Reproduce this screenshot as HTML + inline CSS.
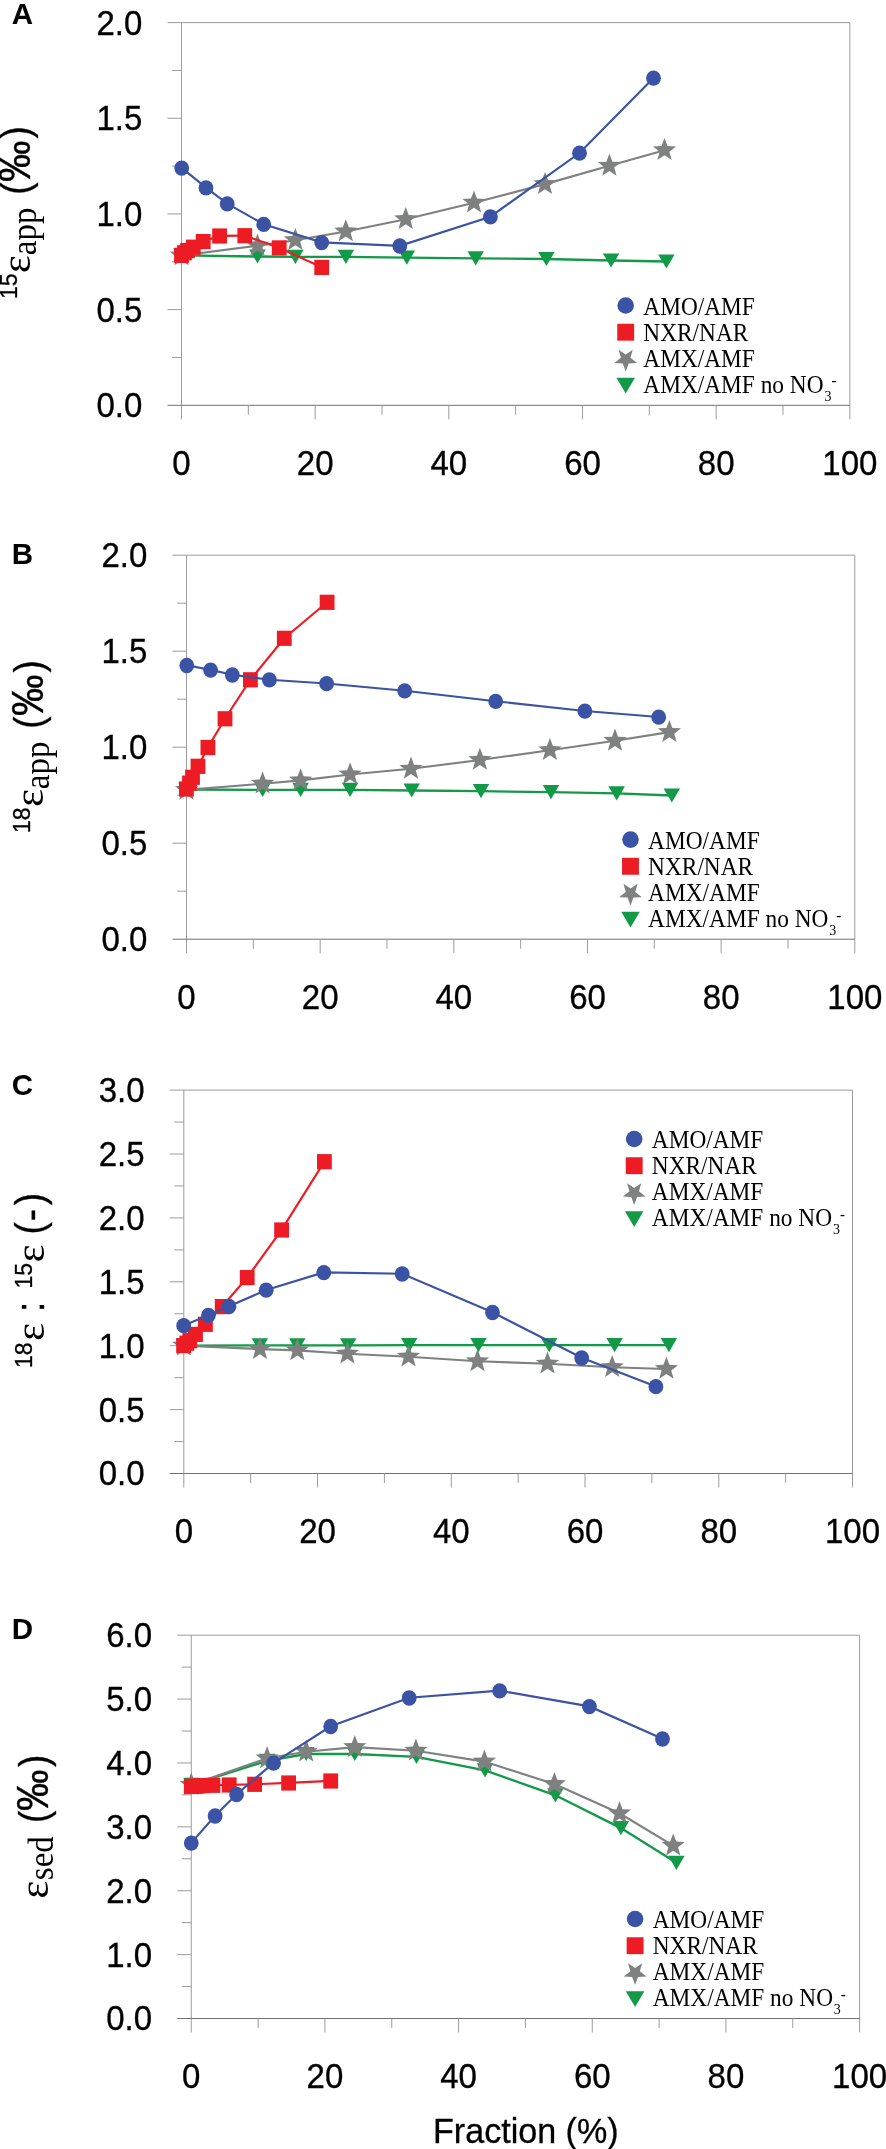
<!DOCTYPE html>
<html><head><meta charset="utf-8"><style>
html,body{margin:0;padding:0;background:#fff;}
svg{display:block;font-family:"Liberation Sans",sans-serif;will-change:transform;}
</style></head><body>
<svg width="886" height="2149" viewBox="0 0 886 2149">
<g stroke="#9c9c9c" stroke-width="1" fill="none">
<path d="M167.5 22.6H849.8"/>
<path d="M849.8 22.6V419.3"/>
<path d="M181.5 22.6V419.3"/>
<path d="M167.5 405.3H849.8" stroke="#727272"/>
<path d="M172 357.46H181.5"/>
<path d="M167.5 309.62H181.5"/>
<path d="M172 261.79H181.5"/>
<path d="M167.5 213.95H181.5"/>
<path d="M172 166.11H181.5"/>
<path d="M167.5 118.28H181.5"/>
<path d="M172 70.44H181.5"/>
<path d="M248.33 405.3V414.8"/>
<path d="M315.16 405.3V419.3"/>
<path d="M381.99 405.3V414.8"/>
<path d="M448.82 405.3V419.3"/>
<path d="M515.65 405.3V414.8"/>
<path d="M582.48 405.3V419.3"/>
<path d="M649.31 405.3V414.8"/>
<path d="M716.14 405.3V419.3"/>
<path d="M782.97 405.3V414.8"/>
</g>
<g font-family="Liberation Sans" font-size="33" text-anchor="end" fill="#000" stroke="#000" stroke-width="0.3">
<text transform="translate(142.3 417.2) scale(1 1.09)" >0.0</text>
<text transform="translate(142.3 321.52) scale(1 1.09)" >0.5</text>
<text transform="translate(142.3 225.85) scale(1 1.09)" >1.0</text>
<text transform="translate(142.3 130.18) scale(1 1.09)" >1.5</text>
<text transform="translate(142.3 34.5) scale(1 1.09)" >2.0</text>
</g>
<g font-family="Liberation Sans" font-size="33" text-anchor="middle" fill="#000" stroke="#000" stroke-width="0.3">
<text transform="translate(181.5 474.8) scale(1 1.09)" >0</text>
<text transform="translate(315.16 474.8) scale(1 1.09)" >20</text>
<text transform="translate(448.82 474.8) scale(1 1.09)" >40</text>
<text transform="translate(582.48 474.8) scale(1 1.09)" >60</text>
<text transform="translate(716.14 474.8) scale(1 1.09)" >80</text>
<text transform="translate(849.8 474.8) scale(1 1.09)" >100</text>
</g>
<text transform="translate(11.7 24.2) scale(1 1.0)" font-family="Liberation Sans" font-size="29.5" font-weight="bold">A</text>
<polyline points="181.5,255.4 257.5,256.5 295.4,256.8 345.9,256.85 406.8,257.7 475.7,258.3 546.4,259 611.1,260.5 666.4,261.5" fill="none" stroke="#139a48" stroke-width="2.3"/>
<g fill="#139a48"><polygon points="173.25,248.3 189.75,248.3 181.5,262.5"/><polygon points="249.25,249.4 265.75,249.4 257.5,263.6"/><polygon points="287.15,249.7 303.65,249.7 295.4,263.9"/><polygon points="337.65,249.75 354.15,249.75 345.9,263.95"/><polygon points="398.55,250.6 415.05,250.6 406.8,264.8"/><polygon points="467.45,251.2 483.95,251.2 475.7,265.4"/><polygon points="538.15,251.9 554.65,251.9 546.4,266.1"/><polygon points="602.85,253.4 619.35,253.4 611.1,267.6"/><polygon points="658.15,254.4 674.65,254.4 666.4,268.6"/></g>
<polyline points="181.5,255.5 257.5,245.6 295.4,240.2 345.8,231.5 405.7,219.2 474,202.7 545,184.1 609.4,165.8 664.5,150.2" fill="none" stroke="#7f8180" stroke-width="2.15"/>
<g fill="#7f8180"><polygon points="181.5,243.3 184.5,251.37 193.1,251.73 186.35,257.08 188.67,265.37 181.5,260.6 174.33,265.37 176.65,257.08 169.9,251.73 178.5,251.37"/><polygon points="257.5,233.4 260.5,241.47 269.1,241.83 262.35,247.18 264.67,255.47 257.5,250.7 250.33,255.47 252.65,247.18 245.9,241.83 254.5,241.47"/><polygon points="295.4,228 298.4,236.07 307,236.43 300.25,241.78 302.57,250.07 295.4,245.3 288.23,250.07 290.55,241.78 283.8,236.43 292.4,236.07"/><polygon points="345.8,219.3 348.8,227.37 357.4,227.73 350.65,233.08 352.97,241.37 345.8,236.6 338.63,241.37 340.95,233.08 334.2,227.73 342.8,227.37"/><polygon points="405.7,207 408.7,215.07 417.3,215.43 410.55,220.78 412.87,229.07 405.7,224.3 398.53,229.07 400.85,220.78 394.1,215.43 402.7,215.07"/><polygon points="474,190.5 477,198.57 485.6,198.93 478.85,204.28 481.17,212.57 474,207.8 466.83,212.57 469.15,204.28 462.4,198.93 471,198.57"/><polygon points="545,171.9 548,179.97 556.6,180.33 549.85,185.68 552.17,193.97 545,189.2 537.83,193.97 540.15,185.68 533.4,180.33 542,179.97"/><polygon points="609.4,153.6 612.4,161.67 621,162.03 614.25,167.38 616.57,175.67 609.4,170.9 602.23,175.67 604.55,167.38 597.8,162.03 606.4,161.67"/><polygon points="664.5,138 667.5,146.07 676.1,146.43 669.35,151.78 671.67,160.07 664.5,155.3 657.33,160.07 659.65,151.78 652.9,146.43 661.5,146.07"/></g>
<polyline points="181.5,255.3 184.4,252.7 187.5,250.5 193.3,247.1 203.2,241.5 219.6,235.9 244.8,235.6 279.2,247.8 321.7,267.3" fill="none" stroke="#ed1c24" stroke-width="2.15"/>
<g fill="#ed1c24"><rect x="174.1" y="247.8" width="14.8" height="15.2"/><rect x="177" y="245.2" width="14.8" height="15.2"/><rect x="180.1" y="243" width="14.8" height="15.2"/><rect x="185.9" y="239.6" width="14.8" height="15.2"/><rect x="195.8" y="234" width="14.8" height="15.2"/><rect x="212.2" y="228.4" width="14.8" height="15.2"/><rect x="237.4" y="228.1" width="14.8" height="15.2"/><rect x="271.8" y="240.3" width="14.8" height="15.2"/><rect x="314.3" y="259.8" width="14.8" height="15.2"/></g>
<polyline points="181.7,167.9 206,187.7 227.2,203.7 263.7,224.2 321.7,242.4 399.8,245.8 490.4,216.7 579.5,153 653.5,78" fill="none" stroke="#3a53a4" stroke-width="2.15"/>
<g fill="#3a53a4"><ellipse cx="181.7" cy="168.1" rx="7.4" ry="7.65"/><ellipse cx="206" cy="187.9" rx="7.4" ry="7.65"/><ellipse cx="227.2" cy="203.9" rx="7.4" ry="7.65"/><ellipse cx="263.7" cy="224.4" rx="7.4" ry="7.65"/><ellipse cx="321.7" cy="242.6" rx="7.4" ry="7.65"/><ellipse cx="399.8" cy="246" rx="7.4" ry="7.65"/><ellipse cx="490.4" cy="216.9" rx="7.4" ry="7.65"/><ellipse cx="579.5" cy="153.2" rx="7.4" ry="7.65"/><ellipse cx="653.5" cy="78.2" rx="7.4" ry="7.65"/></g>
<g stroke="#9c9c9c" stroke-width="1" fill="none">
<path d="M172.5 555.2H854.8"/>
<path d="M854.8 555.2V953.2"/>
<path d="M186.5 555.2V953.2"/>
<path d="M172.5 939.2H854.8" stroke="#727272"/>
<path d="M177 891.2H186.5"/>
<path d="M172.5 843.2H186.5"/>
<path d="M177 795.2H186.5"/>
<path d="M172.5 747.2H186.5"/>
<path d="M177 699.2H186.5"/>
<path d="M172.5 651.2H186.5"/>
<path d="M177 603.2H186.5"/>
<path d="M253.33 939.2V948.7"/>
<path d="M320.16 939.2V953.2"/>
<path d="M386.99 939.2V948.7"/>
<path d="M453.82 939.2V953.2"/>
<path d="M520.65 939.2V948.7"/>
<path d="M587.48 939.2V953.2"/>
<path d="M654.31 939.2V948.7"/>
<path d="M721.14 939.2V953.2"/>
<path d="M787.97 939.2V948.7"/>
</g>
<g font-family="Liberation Sans" font-size="33" text-anchor="end" fill="#000" stroke="#000" stroke-width="0.3">
<text transform="translate(147.3 951.1) scale(1 1.09)" >0.0</text>
<text transform="translate(147.3 855.1) scale(1 1.09)" >0.5</text>
<text transform="translate(147.3 759.1) scale(1 1.09)" >1.0</text>
<text transform="translate(147.3 663.1) scale(1 1.09)" >1.5</text>
<text transform="translate(147.3 567.1) scale(1 1.09)" >2.0</text>
</g>
<g font-family="Liberation Sans" font-size="33" text-anchor="middle" fill="#000" stroke="#000" stroke-width="0.3">
<text transform="translate(186.5 1008.7) scale(1 1.09)" >0</text>
<text transform="translate(320.16 1008.7) scale(1 1.09)" >20</text>
<text transform="translate(453.82 1008.7) scale(1 1.09)" >40</text>
<text transform="translate(587.48 1008.7) scale(1 1.09)" >60</text>
<text transform="translate(721.14 1008.7) scale(1 1.09)" >80</text>
<text transform="translate(854.8 1008.7) scale(1 1.09)" >100</text>
</g>
<text transform="translate(11.7 564) scale(1 1.0)" font-family="Liberation Sans" font-size="29.5" font-weight="bold">B</text>
<polyline points="186.5,789.5 262.6,789.9 300.6,789.9 350.1,789.9 411.7,790.5 481,791.2 551,792.2 616.7,793.3 671.8,795.5" fill="none" stroke="#139a48" stroke-width="2.3"/>
<g fill="#139a48"><polygon points="178.25,782.4 194.75,782.4 186.5,796.6"/><polygon points="254.35,782.8 270.85,782.8 262.6,797"/><polygon points="292.35,782.8 308.85,782.8 300.6,797"/><polygon points="341.85,782.8 358.35,782.8 350.1,797"/><polygon points="403.45,783.4 419.95,783.4 411.7,797.6"/><polygon points="472.75,784.1 489.25,784.1 481,798.3"/><polygon points="542.75,785.1 559.25,785.1 551,799.3"/><polygon points="608.45,786.2 624.95,786.2 616.7,800.4"/><polygon points="663.55,788.4 680.05,788.4 671.8,802.6"/></g>
<polyline points="186.5,789.9 262.6,783.7 300.6,780.4 350.1,774.5 411,768.8 479.9,760 549.9,750.2 615,740.8 669.4,732.1" fill="none" stroke="#7f8180" stroke-width="2.15"/>
<g fill="#7f8180"><polygon points="186.5,777.7 189.5,785.77 198.1,786.13 191.35,791.48 193.67,799.77 186.5,795 179.33,799.77 181.65,791.48 174.9,786.13 183.5,785.77"/><polygon points="262.6,771.5 265.6,779.57 274.2,779.93 267.45,785.28 269.77,793.57 262.6,788.8 255.43,793.57 257.75,785.28 251,779.93 259.6,779.57"/><polygon points="300.6,768.2 303.6,776.27 312.2,776.63 305.45,781.98 307.77,790.27 300.6,785.5 293.43,790.27 295.75,781.98 289,776.63 297.6,776.27"/><polygon points="350.1,762.3 353.1,770.37 361.7,770.73 354.95,776.08 357.27,784.37 350.1,779.6 342.93,784.37 345.25,776.08 338.5,770.73 347.1,770.37"/><polygon points="411,756.6 414,764.67 422.6,765.03 415.85,770.38 418.17,778.67 411,773.9 403.83,778.67 406.15,770.38 399.4,765.03 408,764.67"/><polygon points="479.9,747.8 482.9,755.87 491.5,756.23 484.75,761.58 487.07,769.87 479.9,765.1 472.73,769.87 475.05,761.58 468.3,756.23 476.9,755.87"/><polygon points="549.9,738 552.9,746.07 561.5,746.43 554.75,751.78 557.07,760.07 549.9,755.3 542.73,760.07 545.05,751.78 538.3,746.43 546.9,746.07"/><polygon points="615,728.6 618,736.67 626.6,737.03 619.85,742.38 622.17,750.67 615,745.9 607.83,750.67 610.15,742.38 603.4,737.03 612,736.67"/><polygon points="669.4,719.9 672.4,727.97 681,728.33 674.25,733.68 676.57,741.97 669.4,737.2 662.23,741.97 664.55,733.68 657.8,728.33 666.4,727.97"/></g>
<polyline points="186.4,788.9 189.5,783 192.5,777.2 198,766.2 207.9,747.4 225,718.7 250.4,679.7 284.3,638.2 327.1,602.2" fill="none" stroke="#ed1c24" stroke-width="2.15"/>
<g fill="#ed1c24"><rect x="179" y="781.4" width="14.8" height="15.2"/><rect x="182.1" y="775.5" width="14.8" height="15.2"/><rect x="185.1" y="769.7" width="14.8" height="15.2"/><rect x="190.6" y="758.7" width="14.8" height="15.2"/><rect x="200.5" y="739.9" width="14.8" height="15.2"/><rect x="217.6" y="711.2" width="14.8" height="15.2"/><rect x="243" y="672.2" width="14.8" height="15.2"/><rect x="276.9" y="630.7" width="14.8" height="15.2"/><rect x="319.7" y="594.7" width="14.8" height="15.2"/></g>
<polyline points="186.8,665.3 210.6,669.9 232.3,674.8 269.4,679.7 326.6,683.5 404.7,690.7 495.7,701.2 584.9,711 658.7,717" fill="none" stroke="#3a53a4" stroke-width="2.15"/>
<g fill="#3a53a4"><ellipse cx="186.8" cy="665.5" rx="7.4" ry="7.65"/><ellipse cx="210.6" cy="670.1" rx="7.4" ry="7.65"/><ellipse cx="232.3" cy="675" rx="7.4" ry="7.65"/><ellipse cx="269.4" cy="679.9" rx="7.4" ry="7.65"/><ellipse cx="326.6" cy="683.7" rx="7.4" ry="7.65"/><ellipse cx="404.7" cy="690.9" rx="7.4" ry="7.65"/><ellipse cx="495.7" cy="701.4" rx="7.4" ry="7.65"/><ellipse cx="584.9" cy="711.2" rx="7.4" ry="7.65"/><ellipse cx="658.7" cy="717.2" rx="7.4" ry="7.65"/></g>
<g stroke="#9c9c9c" stroke-width="1" fill="none">
<path d="M169.8 1090.1H852.5"/>
<path d="M852.5 1090.1V1487.5"/>
<path d="M183.8 1090.1V1487.5"/>
<path d="M169.8 1473.5H852.5" stroke="#727272"/>
<path d="M174.3 1441.55H183.8"/>
<path d="M169.8 1409.6H183.8"/>
<path d="M174.3 1377.65H183.8"/>
<path d="M169.8 1345.7H183.8"/>
<path d="M174.3 1313.75H183.8"/>
<path d="M169.8 1281.8H183.8"/>
<path d="M174.3 1249.85H183.8"/>
<path d="M169.8 1217.9H183.8"/>
<path d="M174.3 1185.95H183.8"/>
<path d="M169.8 1154H183.8"/>
<path d="M174.3 1122.05H183.8"/>
<path d="M250.67 1473.5V1483"/>
<path d="M317.54 1473.5V1487.5"/>
<path d="M384.41 1473.5V1483"/>
<path d="M451.28 1473.5V1487.5"/>
<path d="M518.15 1473.5V1483"/>
<path d="M585.02 1473.5V1487.5"/>
<path d="M651.89 1473.5V1483"/>
<path d="M718.76 1473.5V1487.5"/>
<path d="M785.63 1473.5V1483"/>
</g>
<g font-family="Liberation Sans" font-size="33" text-anchor="end" fill="#000" stroke="#000" stroke-width="0.3">
<text transform="translate(144.6 1485.4) scale(1 1.09)" >0.0</text>
<text transform="translate(144.6 1421.5) scale(1 1.09)" >0.5</text>
<text transform="translate(144.6 1357.6) scale(1 1.09)" >1.0</text>
<text transform="translate(144.6 1293.7) scale(1 1.09)" >1.5</text>
<text transform="translate(144.6 1229.8) scale(1 1.09)" >2.0</text>
<text transform="translate(144.6 1165.9) scale(1 1.09)" >2.5</text>
<text transform="translate(144.6 1102) scale(1 1.09)" >3.0</text>
</g>
<g font-family="Liberation Sans" font-size="33" text-anchor="middle" fill="#000" stroke="#000" stroke-width="0.3">
<text transform="translate(183.8 1543) scale(1 1.09)" >0</text>
<text transform="translate(317.54 1543) scale(1 1.09)" >20</text>
<text transform="translate(451.28 1543) scale(1 1.09)" >40</text>
<text transform="translate(585.02 1543) scale(1 1.09)" >60</text>
<text transform="translate(718.76 1543) scale(1 1.09)" >80</text>
<text transform="translate(852.5 1543) scale(1 1.09)" >100</text>
</g>
<text transform="translate(11.7 1095.2) scale(1 1.0)" font-family="Liberation Sans" font-size="29.5" font-weight="bold">C</text>
<polyline points="183.8,1345.6 259.9,1345.4 297.3,1345.4 348.2,1345.4 409.2,1345.2 478.5,1345.2 549.2,1345.2 614.6,1345.2 668.9,1345.2" fill="none" stroke="#139a48" stroke-width="2.3"/>
<g fill="#139a48"><polygon points="175.55,1338.5 192.05,1338.5 183.8,1352.7"/><polygon points="251.65,1338.3 268.15,1338.3 259.9,1352.5"/><polygon points="289.05,1338.3 305.55,1338.3 297.3,1352.5"/><polygon points="339.95,1338.3 356.45,1338.3 348.2,1352.5"/><polygon points="400.95,1338.1 417.45,1338.1 409.2,1352.3"/><polygon points="470.25,1338.1 486.75,1338.1 478.5,1352.3"/><polygon points="540.95,1338.1 557.45,1338.1 549.2,1352.3"/><polygon points="606.35,1338.1 622.85,1338.1 614.6,1352.3"/><polygon points="660.65,1338.1 677.15,1338.1 668.9,1352.3"/></g>
<polyline points="183.8,1345.6 259.9,1349.1 297.3,1350.4 347.4,1353.7 408.5,1356.7 477.5,1361.3 547.5,1363.7 612.2,1367.2 666.4,1369" fill="none" stroke="#7f8180" stroke-width="2.15"/>
<g fill="#7f8180"><polygon points="183.8,1333.4 186.8,1341.47 195.4,1341.83 188.65,1347.18 190.97,1355.47 183.8,1350.7 176.63,1355.47 178.95,1347.18 172.2,1341.83 180.8,1341.47"/><polygon points="259.9,1336.9 262.9,1344.97 271.5,1345.33 264.75,1350.68 267.07,1358.97 259.9,1354.2 252.73,1358.97 255.05,1350.68 248.3,1345.33 256.9,1344.97"/><polygon points="297.3,1338.2 300.3,1346.27 308.9,1346.63 302.15,1351.98 304.47,1360.27 297.3,1355.5 290.13,1360.27 292.45,1351.98 285.7,1346.63 294.3,1346.27"/><polygon points="347.4,1341.5 350.4,1349.57 359,1349.93 352.25,1355.28 354.57,1363.57 347.4,1358.8 340.23,1363.57 342.55,1355.28 335.8,1349.93 344.4,1349.57"/><polygon points="408.5,1344.5 411.5,1352.57 420.1,1352.93 413.35,1358.28 415.67,1366.57 408.5,1361.8 401.33,1366.57 403.65,1358.28 396.9,1352.93 405.5,1352.57"/><polygon points="477.5,1349.1 480.5,1357.17 489.1,1357.53 482.35,1362.88 484.67,1371.17 477.5,1366.4 470.33,1371.17 472.65,1362.88 465.9,1357.53 474.5,1357.17"/><polygon points="547.5,1351.5 550.5,1359.57 559.1,1359.93 552.35,1365.28 554.67,1373.57 547.5,1368.8 540.33,1373.57 542.65,1365.28 535.9,1359.93 544.5,1359.57"/><polygon points="612.2,1355 615.2,1363.07 623.8,1363.43 617.05,1368.78 619.37,1377.07 612.2,1372.3 605.03,1377.07 607.35,1368.78 600.6,1363.43 609.2,1363.07"/><polygon points="666.4,1356.8 669.4,1364.87 678,1365.23 671.25,1370.58 673.57,1378.87 666.4,1374.1 659.23,1378.87 661.55,1370.58 654.8,1365.23 663.4,1364.87"/></g>
<polyline points="183.6,1345.5 186.8,1343.1 189.8,1340.6 195.5,1334.3 205.4,1324.2 222.2,1306.5 247.2,1277.5 281.6,1229.9 324.4,1161.6" fill="none" stroke="#ed1c24" stroke-width="2.15"/>
<g fill="#ed1c24"><rect x="176.2" y="1338" width="14.8" height="15.2"/><rect x="179.4" y="1335.6" width="14.8" height="15.2"/><rect x="182.4" y="1333.1" width="14.8" height="15.2"/><rect x="188.1" y="1326.8" width="14.8" height="15.2"/><rect x="198" y="1316.7" width="14.8" height="15.2"/><rect x="214.8" y="1299" width="14.8" height="15.2"/><rect x="239.8" y="1270" width="14.8" height="15.2"/><rect x="274.2" y="1222.4" width="14.8" height="15.2"/><rect x="317" y="1154.1" width="14.8" height="15.2"/></g>
<polyline points="183.7,1325.5 208.4,1315.2 229,1306.3 266.2,1290 323.8,1272.4 402.2,1273.8 492.5,1312.3 581.7,1357.8 655.9,1386.5" fill="none" stroke="#3a53a4" stroke-width="2.15"/>
<g fill="#3a53a4"><ellipse cx="183.7" cy="1325.7" rx="7.4" ry="7.65"/><ellipse cx="208.4" cy="1315.4" rx="7.4" ry="7.65"/><ellipse cx="229" cy="1306.5" rx="7.4" ry="7.65"/><ellipse cx="266.2" cy="1290.2" rx="7.4" ry="7.65"/><ellipse cx="323.8" cy="1272.6" rx="7.4" ry="7.65"/><ellipse cx="402.2" cy="1274" rx="7.4" ry="7.65"/><ellipse cx="492.5" cy="1312.5" rx="7.4" ry="7.65"/><ellipse cx="581.7" cy="1358" rx="7.4" ry="7.65"/><ellipse cx="655.9" cy="1386.7" rx="7.4" ry="7.65"/></g>
<g stroke="#9c9c9c" stroke-width="1" fill="none">
<path d="M177.25 1635.2H859.6"/>
<path d="M859.6 1635.2V2032.5"/>
<path d="M191.25 1635.2V2032.5"/>
<path d="M177.25 2018.5H859.6" stroke="#727272"/>
<path d="M181.75 1986.56H191.25"/>
<path d="M177.25 1954.62H191.25"/>
<path d="M181.75 1922.67H191.25"/>
<path d="M177.25 1890.73H191.25"/>
<path d="M181.75 1858.79H191.25"/>
<path d="M177.25 1826.85H191.25"/>
<path d="M181.75 1794.91H191.25"/>
<path d="M177.25 1762.97H191.25"/>
<path d="M181.75 1731.03H191.25"/>
<path d="M177.25 1699.08H191.25"/>
<path d="M181.75 1667.14H191.25"/>
<path d="M258.09 2018.5V2028"/>
<path d="M324.92 2018.5V2032.5"/>
<path d="M391.75 2018.5V2028"/>
<path d="M458.59 2018.5V2032.5"/>
<path d="M525.42 2018.5V2028"/>
<path d="M592.26 2018.5V2032.5"/>
<path d="M659.1 2018.5V2028"/>
<path d="M725.93 2018.5V2032.5"/>
<path d="M792.77 2018.5V2028"/>
</g>
<g font-family="Liberation Sans" font-size="33" text-anchor="end" fill="#000" stroke="#000" stroke-width="0.3">
<text transform="translate(152.05 2030.4) scale(1 1.09)" >0.0</text>
<text transform="translate(152.05 1966.52) scale(1 1.09)" >1.0</text>
<text transform="translate(152.05 1902.63) scale(1 1.09)" >2.0</text>
<text transform="translate(152.05 1838.75) scale(1 1.09)" >3.0</text>
<text transform="translate(152.05 1774.87) scale(1 1.09)" >4.0</text>
<text transform="translate(152.05 1710.98) scale(1 1.09)" >5.0</text>
<text transform="translate(152.05 1647.1) scale(1 1.09)" >6.0</text>
</g>
<g font-family="Liberation Sans" font-size="33" text-anchor="middle" fill="#000" stroke="#000" stroke-width="0.3">
<text transform="translate(191.25 2088) scale(1 1.09)" >0</text>
<text transform="translate(324.92 2088) scale(1 1.09)" >20</text>
<text transform="translate(458.59 2088) scale(1 1.09)" >40</text>
<text transform="translate(592.26 2088) scale(1 1.09)" >60</text>
<text transform="translate(725.93 2088) scale(1 1.09)" >80</text>
<text transform="translate(859.6 2088) scale(1 1.09)" >100</text>
</g>
<text transform="translate(11.7 1638.6) scale(1 1.0)" font-family="Liberation Sans" font-size="29.5" font-weight="bold">D</text>
<polyline points="191.3,1784.8 267.1,1760.8 306.2,1754 354.8,1754 416.5,1756.9 485,1770.3 555.4,1795.3 620.9,1828.1 676.4,1862.8" fill="none" stroke="#139a48" stroke-width="2.3"/>
<g fill="#139a48"><polygon points="183.05,1777.7 199.55,1777.7 191.3,1791.9"/><polygon points="258.85,1753.7 275.35,1753.7 267.1,1767.9"/><polygon points="297.95,1746.9 314.45,1746.9 306.2,1761.1"/><polygon points="346.55,1746.9 363.05,1746.9 354.8,1761.1"/><polygon points="408.25,1749.8 424.75,1749.8 416.5,1764"/><polygon points="476.75,1763.2 493.25,1763.2 485,1777.4"/><polygon points="547.15,1788.2 563.65,1788.2 555.4,1802.4"/><polygon points="612.65,1821 629.15,1821 620.9,1835.2"/><polygon points="668.15,1855.7 684.65,1855.7 676.4,1869.9"/></g>
<polyline points="191.3,1784.8 267.1,1758.3 306.2,1751.7 354.8,1747.1 415.9,1750.7 484.4,1761.6 554.4,1784.1 619.5,1813.3 673.2,1845.7" fill="none" stroke="#7f8180" stroke-width="2.15"/>
<g fill="#7f8180"><polygon points="191.3,1772.6 194.3,1780.67 202.9,1781.03 196.15,1786.38 198.47,1794.67 191.3,1789.9 184.13,1794.67 186.45,1786.38 179.7,1781.03 188.3,1780.67"/><polygon points="267.1,1746.1 270.1,1754.17 278.7,1754.53 271.95,1759.88 274.27,1768.17 267.1,1763.4 259.93,1768.17 262.25,1759.88 255.5,1754.53 264.1,1754.17"/><polygon points="306.2,1739.5 309.2,1747.57 317.8,1747.93 311.05,1753.28 313.37,1761.57 306.2,1756.8 299.03,1761.57 301.35,1753.28 294.6,1747.93 303.2,1747.57"/><polygon points="354.8,1734.9 357.8,1742.97 366.4,1743.33 359.65,1748.68 361.97,1756.97 354.8,1752.2 347.63,1756.97 349.95,1748.68 343.2,1743.33 351.8,1742.97"/><polygon points="415.9,1738.5 418.9,1746.57 427.5,1746.93 420.75,1752.28 423.07,1760.57 415.9,1755.8 408.73,1760.57 411.05,1752.28 404.3,1746.93 412.9,1746.57"/><polygon points="484.4,1749.4 487.4,1757.47 496,1757.83 489.25,1763.18 491.57,1771.47 484.4,1766.7 477.23,1771.47 479.55,1763.18 472.8,1757.83 481.4,1757.47"/><polygon points="554.4,1771.9 557.4,1779.97 566,1780.33 559.25,1785.68 561.57,1793.97 554.4,1789.2 547.23,1793.97 549.55,1785.68 542.8,1780.33 551.4,1779.97"/><polygon points="619.5,1801.1 622.5,1809.17 631.1,1809.53 624.35,1814.88 626.67,1823.17 619.5,1818.4 612.33,1823.17 614.65,1814.88 607.9,1809.53 616.5,1809.17"/><polygon points="673.2,1833.5 676.2,1841.57 684.8,1841.93 678.05,1847.28 680.37,1855.57 673.2,1850.8 666.03,1855.57 668.35,1847.28 661.6,1841.93 670.2,1841.57"/></g>
<polyline points="191.25,1786.4 194.3,1786.2 197.3,1786 203,1785.5 212.9,1785.2 229.2,1784.9 254.6,1784.2 288.6,1782.9 330.7,1780.9" fill="none" stroke="#ed1c24" stroke-width="2.15"/>
<g fill="#ed1c24"><rect x="183.85" y="1778.9" width="14.8" height="15.2"/><rect x="186.9" y="1778.7" width="14.8" height="15.2"/><rect x="189.9" y="1778.5" width="14.8" height="15.2"/><rect x="195.6" y="1778" width="14.8" height="15.2"/><rect x="205.5" y="1777.7" width="14.8" height="15.2"/><rect x="221.8" y="1777.4" width="14.8" height="15.2"/><rect x="247.2" y="1776.7" width="14.8" height="15.2"/><rect x="281.2" y="1775.4" width="14.8" height="15.2"/><rect x="323.3" y="1773.4" width="14.8" height="15.2"/></g>
<polyline points="191.3,1842.9 215.1,1815.8 236.6,1794.3 273.6,1762.9 330.7,1726.3 409.2,1697.8 499.7,1690.7 589.4,1706.4 662.5,1738.8" fill="none" stroke="#3a53a4" stroke-width="2.15"/>
<g fill="#3a53a4"><ellipse cx="191.3" cy="1843.1" rx="7.4" ry="7.65"/><ellipse cx="215.1" cy="1816" rx="7.4" ry="7.65"/><ellipse cx="236.6" cy="1794.5" rx="7.4" ry="7.65"/><ellipse cx="273.6" cy="1763.1" rx="7.4" ry="7.65"/><ellipse cx="330.7" cy="1726.5" rx="7.4" ry="7.65"/><ellipse cx="409.2" cy="1698" rx="7.4" ry="7.65"/><ellipse cx="499.7" cy="1690.9" rx="7.4" ry="7.65"/><ellipse cx="589.4" cy="1706.6" rx="7.4" ry="7.65"/><ellipse cx="662.5" cy="1739" rx="7.4" ry="7.65"/></g>
<g fill="#3a53a4"><circle cx="625.7" cy="305.5" r="8.3"/></g>
<g fill="#ed1c24"><rect x="617.25" y="323.75" width="16.9" height="16.9"/></g>
<g fill="#7f8180"><polygon points="625.7,371.4 622.76,363.45 614.29,363.11 620.94,357.85 618.65,349.69 625.7,354.4 632.75,349.69 630.46,357.85 637.11,363.11 628.64,363.45"/></g>
<g fill="#139a48"><polygon points="616.4,377.7 635,377.7 625.7,393.5"/></g>
<g font-family="Liberation Serif" font-size="23.35" fill="#000">
<text transform="translate(643.3 314.9) scale(1 1.075)" >AMO/AMF</text>
<text transform="translate(643.3 340.9) scale(1 1.075)" >NXR/NAR</text>
<text transform="translate(643.3 366.9) scale(1 1.075)" >AMX/AMF</text>
<text transform="translate(643.3 392.9) scale(1 1.075)" >AMX/AMF no NO<tspan font-size="14" dy="7.3" dx="0.8">3</tspan><tspan font-size="15" dy="-13.3">-</tspan></text>
</g>
<g fill="#3a53a4"><circle cx="630.5" cy="839.6" r="8.3"/></g>
<g fill="#ed1c24"><rect x="622.05" y="857.85" width="16.9" height="16.9"/></g>
<g fill="#7f8180"><polygon points="630.5,905.5 627.56,897.55 619.09,897.21 625.74,891.95 623.45,883.79 630.5,888.5 637.55,883.79 635.26,891.95 641.91,897.21 633.44,897.55"/></g>
<g fill="#139a48"><polygon points="621.2,911.8 639.8,911.8 630.5,927.6"/></g>
<g font-family="Liberation Serif" font-size="23.35" fill="#000">
<text transform="translate(648.1 849) scale(1 1.075)" >AMO/AMF</text>
<text transform="translate(648.1 875) scale(1 1.075)" >NXR/NAR</text>
<text transform="translate(648.1 901) scale(1 1.075)" >AMX/AMF</text>
<text transform="translate(648.1 927) scale(1 1.075)" >AMX/AMF no NO<tspan font-size="14" dy="7.3" dx="0.8">3</tspan><tspan font-size="15" dy="-13.3">-</tspan></text>
</g>
<g fill="#3a53a4"><circle cx="634.2" cy="1139" r="8.3"/></g>
<g fill="#ed1c24"><rect x="625.75" y="1157.25" width="16.9" height="16.9"/></g>
<g fill="#7f8180"><polygon points="634.2,1204.9 631.26,1196.95 622.79,1196.61 629.44,1191.35 627.15,1183.19 634.2,1187.9 641.25,1183.19 638.96,1191.35 645.61,1196.61 637.14,1196.95"/></g>
<g fill="#139a48"><polygon points="624.9,1211.2 643.5,1211.2 634.2,1227"/></g>
<g font-family="Liberation Serif" font-size="23.35" fill="#000">
<text transform="translate(651.8 1148.4) scale(1 1.075)" >AMO/AMF</text>
<text transform="translate(651.8 1174.4) scale(1 1.075)" >NXR/NAR</text>
<text transform="translate(651.8 1200.4) scale(1 1.075)" >AMX/AMF</text>
<text transform="translate(651.8 1226.4) scale(1 1.075)" >AMX/AMF no NO<tspan font-size="14" dy="7.3" dx="0.8">3</tspan><tspan font-size="15" dy="-13.3">-</tspan></text>
</g>
<g fill="#3a53a4"><circle cx="635.1" cy="1919" r="8.3"/></g>
<g fill="#ed1c24"><rect x="626.65" y="1937.25" width="16.9" height="16.9"/></g>
<g fill="#7f8180"><polygon points="635.1,1984.9 632.16,1976.95 623.69,1976.61 630.34,1971.35 628.05,1963.19 635.1,1967.9 642.15,1963.19 639.86,1971.35 646.51,1976.61 638.04,1976.95"/></g>
<g fill="#139a48"><polygon points="625.8,1991.2 644.4,1991.2 635.1,2007"/></g>
<g font-family="Liberation Serif" font-size="23.35" fill="#000">
<text transform="translate(652.7 1928.4) scale(1 1.075)" >AMO/AMF</text>
<text transform="translate(652.7 1954.4) scale(1 1.075)" >NXR/NAR</text>
<text transform="translate(652.7 1980.4) scale(1 1.075)" >AMX/AMF</text>
<text transform="translate(652.7 2006.4) scale(1 1.075)" >AMX/AMF no NO<tspan font-size="14" dy="7.3" dx="0.8">3</tspan><tspan font-size="15" dy="-13.3">-</tspan></text>
</g>
<g transform="translate(30.2 299.1) rotate(-90) scale(1 1.075)"><text x="0" y="-12.37" font-family="Liberation Sans" font-size="23" stroke="#000" stroke-width="0.3">15</text></g>
<g transform="translate(30.2 273.2) rotate(-90) scale(1 1.075)"><text x="0" y="0" font-family="Liberation Serif" font-size="38" textLength="18" lengthAdjust="spacingAndGlyphs">ε</text></g>
<g transform="translate(30.2 255.2) rotate(-90) scale(1 1.075)"><text x="0" y="5.49" font-family="Liberation Serif" font-size="33">app</text></g>
<g transform="translate(30.2 194.8) rotate(-90) scale(1 1.075)"><text x="0" y="0" font-family="Liberation Sans" font-size="37" stroke="#000" stroke-width="0.3">(</text></g>
<g transform="translate(30.2 182) rotate(-90) scale(1 1.075)"><text x="0" y="0" font-family="Liberation Sans" font-size="41.5" stroke="#000" stroke-width="0.3">‰</text></g>
<g transform="translate(30.2 138.6) rotate(-90) scale(1 1.075)"><text x="0" y="0" font-family="Liberation Sans" font-size="37" stroke="#000" stroke-width="0.3">)</text></g>
<g transform="translate(42.5 833.1) rotate(-90) scale(1 1.075)"><text x="0" y="-11.81" font-family="Liberation Sans" font-size="23" stroke="#000" stroke-width="0.3">18</text></g>
<g transform="translate(42.5 807) rotate(-90) scale(1 1.075)"><text x="0" y="0" font-family="Liberation Serif" font-size="38" textLength="18" lengthAdjust="spacingAndGlyphs">ε</text></g>
<g transform="translate(42.5 789.2) rotate(-90) scale(1 1.075)"><text x="0" y="5.77" font-family="Liberation Serif" font-size="33">app</text></g>
<g transform="translate(42.5 728.8) rotate(-90) scale(1 1.075)"><text x="0" y="0" font-family="Liberation Sans" font-size="37" stroke="#000" stroke-width="0.3">(</text></g>
<g transform="translate(42.5 716) rotate(-90) scale(1 1.075)"><text x="0" y="0" font-family="Liberation Sans" font-size="41.5" stroke="#000" stroke-width="0.3">‰</text></g>
<g transform="translate(42.5 672.6) rotate(-90) scale(1 1.075)"><text x="0" y="0" font-family="Liberation Sans" font-size="37" stroke="#000" stroke-width="0.3">)</text></g>
<g transform="translate(44.2 1368) rotate(-90) scale(1 1.075)"><text x="0" y="-11.53" font-family="Liberation Sans" font-size="23" stroke="#000" stroke-width="0.3">18</text></g>
<g transform="translate(44.2 1340.9) rotate(-90) scale(1 1.075)"><text x="0" y="0" font-family="Liberation Serif" font-size="38" textLength="18" lengthAdjust="spacingAndGlyphs">ε</text></g>
<g transform="translate(44.2 1312.1) rotate(-90) scale(1 1.075)"><text x="0" y="0" font-family="Liberation Sans" font-size="37" stroke="#000" stroke-width="0.3">:</text></g>
<g transform="translate(44.2 1288.5) rotate(-90) scale(1 1.075)"><text x="0" y="-11.53" font-family="Liberation Sans" font-size="23" stroke="#000" stroke-width="0.3">15</text></g>
<g transform="translate(44.2 1262.5) rotate(-90) scale(1 1.075)"><text x="0" y="0" font-family="Liberation Serif" font-size="38" textLength="18" lengthAdjust="spacingAndGlyphs">ε</text></g>
<g transform="translate(44.2 1234.4) rotate(-90) scale(1 1.075)"><text x="0" y="0" font-family="Liberation Sans" font-size="37" stroke="#000" stroke-width="0.3">(</text></g>
<g transform="translate(44.2 1221.2) rotate(-90) scale(1 1.075)"><text x="0" y="0" font-family="Liberation Sans" font-size="37" stroke="#000" stroke-width="0.3">-</text></g>
<g transform="translate(44.2 1205.3) rotate(-90) scale(1 1.075)"><text x="0" y="0" font-family="Liberation Sans" font-size="37" stroke="#000" stroke-width="0.3">)</text></g>
<g transform="translate(47.6 1898.7) rotate(-90) scale(1 1.075)"><text x="0" y="0" font-family="Liberation Serif" font-size="38" textLength="18" lengthAdjust="spacingAndGlyphs">ε</text></g>
<g transform="translate(47.6 1880.2) rotate(-90) scale(1 1.075)"><text x="0" y="4.93" font-family="Liberation Serif" font-size="33">sed</text></g>
<g transform="translate(47.6 1823.1) rotate(-90) scale(1 1.075)"><text x="0" y="0" font-family="Liberation Sans" font-size="37" stroke="#000" stroke-width="0.3">(</text></g>
<g transform="translate(47.6 1811) rotate(-90) scale(1 1.075)"><text x="0" y="0" font-family="Liberation Sans" font-size="41.5" stroke="#000" stroke-width="0.3">‰</text></g>
<g transform="translate(47.6 1767) rotate(-90) scale(1 1.075)"><text x="0" y="0" font-family="Liberation Sans" font-size="37" stroke="#000" stroke-width="0.3">)</text></g>
<text transform="translate(433 2142.5) scale(1 1.05)" font-family="Liberation Sans" font-size="34.1" stroke="#000" stroke-width="0.3">Fraction (%)</text>
</svg>
</body></html>
